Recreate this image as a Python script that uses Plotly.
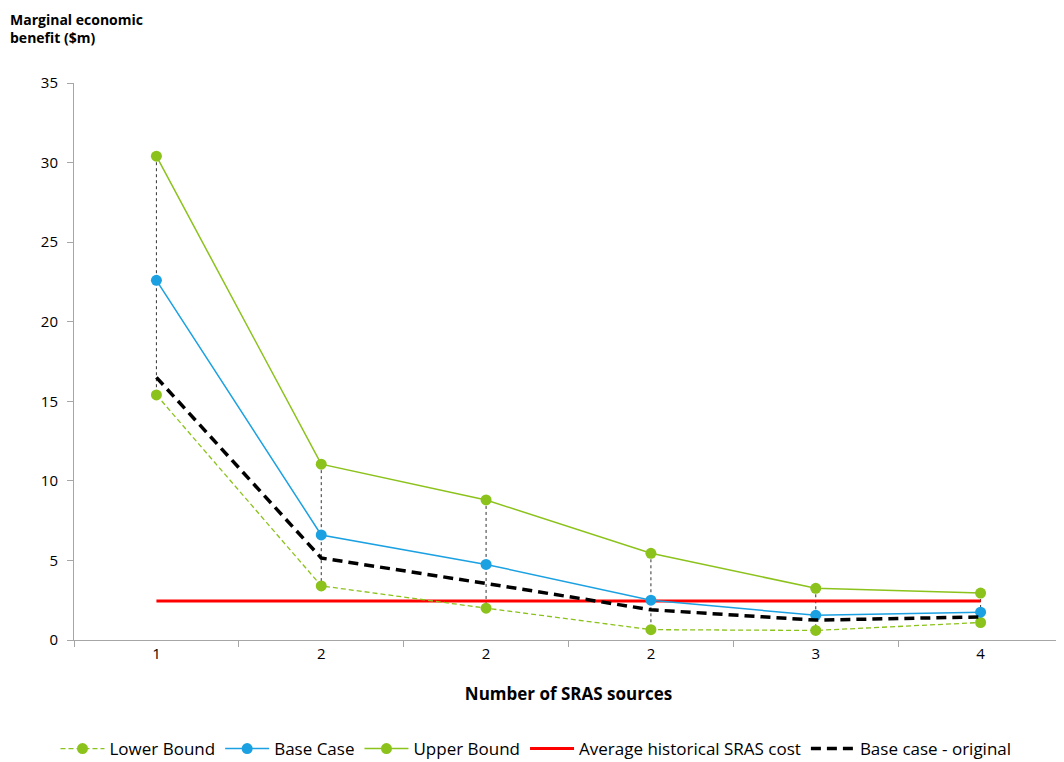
import plotly.graph_objects as go

categories = ["1", "2", "2", "2", "3", "4"]
lower_bound = [15.4, 3.4, 2.0, 0.65, 0.6, 1.1]
base_case = [22.6, 6.6, 4.75, 2.5, 1.55, 1.75]
upper_bound = [30.4, 11.05, 8.8, 5.45, 3.25, 2.95]
avg_hist_cost = [2.45, 2.45, 2.45, 2.45, 2.45, 2.45]
base_original = [16.5, 5.15, 3.55, 1.9, 1.25, 1.45]

x = list(range(len(categories)))
GREEN = "#8CC21C"
BLUE = "#1BA1E2"
FONT = "Open Sans"

fig = go.Figure()

# high-low drop lines
hx, hy = [], []
for i in x:
    vals = [lower_bound[i], base_case[i], upper_bound[i], base_original[i]]
    hx += [i, i, None]
    hy += [max(vals), min(vals), None]
fig.add_trace(go.Scatter(x=hx, y=hy, mode="lines", showlegend=False, hoverinfo="skip",
                         line=dict(color="#333333", width=1, dash="3px,3px")))

fig.add_trace(go.Scatter(x=x, y=avg_hist_cost, mode="lines", name="Average historical SRAS cost",
                         line=dict(color="#FF0000", width=3), legendrank=4))
fig.add_trace(go.Scatter(x=x, y=lower_bound, mode="lines+markers", name="Lower Bound",
                         line=dict(color=GREEN, width=1.3, dash="5px,3px"),
                         marker=dict(color=GREEN, size=11), legendrank=1))
fig.add_trace(go.Scatter(x=x, y=base_case, mode="lines+markers", name="Base Case",
                         line=dict(color=BLUE, width=1.5),
                         marker=dict(color=BLUE, size=11), legendrank=2))
fig.add_trace(go.Scatter(x=x, y=upper_bound, mode="lines+markers", name="Upper Bound",
                         line=dict(color=GREEN, width=1.5),
                         marker=dict(color=GREEN, size=11), legendrank=3))
fig.add_trace(go.Scatter(x=x, y=base_original, mode="lines", name="Base case - original",
                         line=dict(color="black", width=3.5, dash="10px,6px"), legendrank=5))

fig.update_layout(
    width=1056, height=754,
    paper_bgcolor="white", plot_bgcolor="white",
    margin=dict(l=66, r=1, t=75, b=122),
    font=dict(family=FONT, size=15, color="black"),
    showlegend=True,
    legend=dict(orientation="h", x=0.5, xanchor="center", xref="container",
                y=13 / 754, yanchor="middle", yref="container",
                font=dict(size=17), traceorder="normal", itemwidth=44),
    xaxis=dict(
        range=[-0.5, 5.5], tickvals=x, ticktext=categories, ticks="", showgrid=False,
        zeroline=False, showline=True, linecolor="#A6A6A6", linewidth=1,
        tickfont=dict(size=15), automargin=False,
        minor=dict(tick0=0.5, dtick=1, ticks="outside", ticklen=6, tickcolor="#A6A6A6", showgrid=False),
        title=dict(text="<b>Number of SRAS sources</b>", font=dict(size=17), standoff=26),
    ),
    yaxis=dict(
        range=[0, 35], tickvals=[0, 5, 10, 15, 20, 25, 30, 35], ticks="outside", ticklen=6,
        tickcolor="#A6A6A6", showgrid=False, zeroline=False, showline=True,
        linecolor="#A6A6A6", linewidth=1, tickfont=dict(size=15), automargin=False,
        ticklabelstandoff=6,
    ),
    annotations=[dict(text="<b>Marginal economic<br>benefit ($m)</b>", xref="paper", yref="paper",
                      x=-66 / 989, y=1.135, xanchor="left", yanchor="top", showarrow=False,
                      align="left", font=dict(size=14))],
)

fig.write_html("out.html")
